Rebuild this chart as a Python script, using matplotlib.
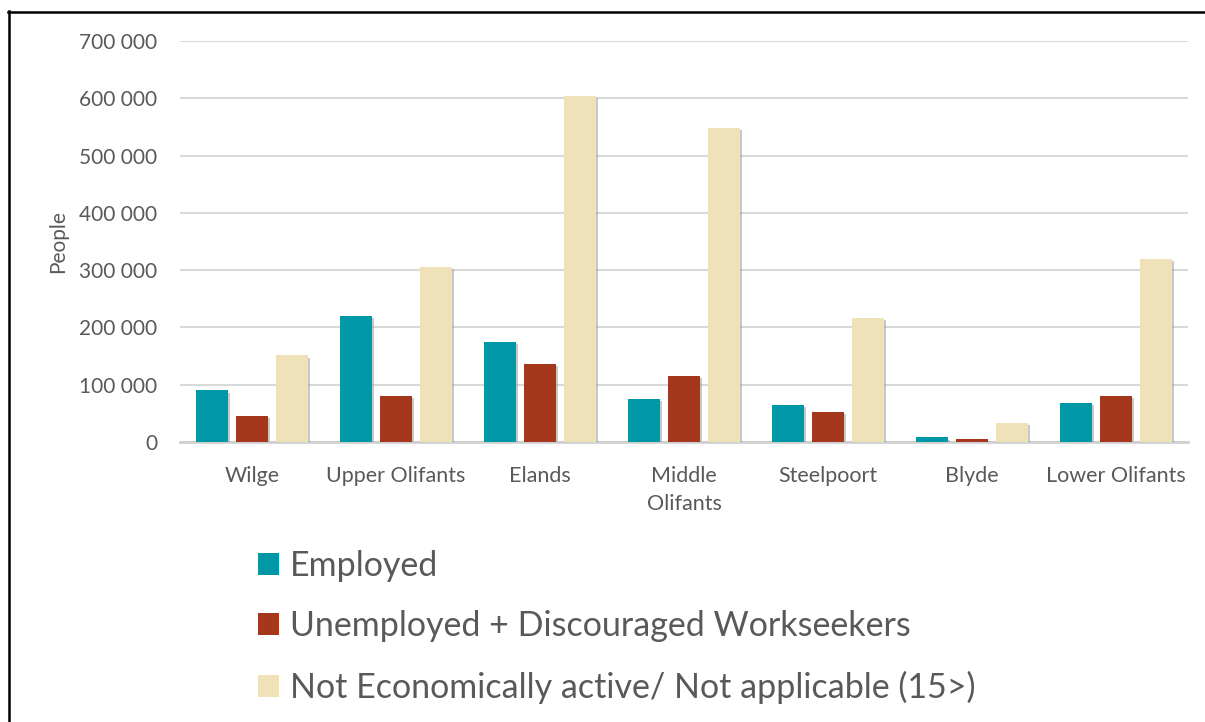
import numpy as np
import matplotlib
matplotlib.use('Agg')
import matplotlib.pyplot as plt
import matplotlib.patheffects as pe
from matplotlib.lines import Line2D
from matplotlib.patches import Patch
from matplotlib.ticker import FuncFormatter

plt.rcParams['font.family'] = ['Lato', 'DejaVu Sans']

regions = ['Wilge', 'Upper Olifants', 'Elands', 'Middle\nOlifants',
           'Steelpoort', 'Blyde', 'Lower Olifants']
employed = [90000, 220000, 174000, 75000, 64000, 8000, 68000]
unemployed = [45000, 81000, 136000, 116000, 53000, 6000, 81000]
not_active = [151000, 306000, 604000, 548000, 216000, 34000, 320000]

series_names = ['Employed', 'Unemployed + Discouraged Workseekers',
                'Not Economically active/ Not applicable (15>)']
colors = ['#0097A7', '#A5371D', '#F0E2B8']
text_col = '#595959'

fig = plt.figure(figsize=(12.05, 7.22), dpi=100)
ax = fig.add_axes([180 / 1205, 1 - 442 / 722, 1008 / 1205, 401 / 722])

x = np.arange(len(regions))
w = 0.222
step = 0.278
# soft drop shadow like the office chart
shadow = [pe.SimplePatchShadow(offset=(1.5, -1.5), shadow_rgbFace='#888888', alpha=0.45), pe.Normal()]
for i, vals in enumerate([employed, unemployed, not_active]):
    bars = ax.bar(x + (i - 1) * step, vals, width=w, color=colors[i], zorder=3)
    for b in bars:
        b.set_path_effects(shadow)

ax.set_xlim(-0.5, len(regions) - 0.5)
ax.set_ylim(0, 700000)
ax.set_yticks(np.arange(0, 700001, 100000))
ax.yaxis.set_major_formatter(FuncFormatter(lambda v, p: f'{int(v):,}'.replace(',', ' ')))
ax.set_xticks(x)
ax.set_xticklabels(regions, linespacing=1.5)
ax.grid(axis='y', color='#D9D9D9', linewidth=1.5, zorder=0)
for s in ['top', 'right', 'left']:
    ax.spines[s].set_visible(False)
ax.spines['bottom'].set_color('#D0D0D0')
ax.spines['bottom'].set_linewidth(2)
ax.tick_params(axis='both', length=0, labelsize=15, colors=text_col)
ax.tick_params(axis='x', labelsize=15.5, pad=17)
ax.tick_params(axis='y', pad=16.5)
ax.set_ylabel('People', fontsize=15, color=text_col, labelpad=8)

handles = [Patch(facecolor=c, edgecolor='none') for c in colors]
fig.legend(handles, series_names, loc='upper left',
           bbox_to_anchor=(258 / 1205, 1 - 550 / 722),
           frameon=False, fontsize=24.5, labelcolor=text_col,
           borderpad=0, borderaxespad=0,
           handlelength=0.62, handleheight=0.62, handletextpad=0.32,
           labelspacing=0.83)

# frame lines at left and top
fig.add_artist(Line2D([8.5 / 1205, 8.5 / 1205], [0, 1 - 11 / 722], color='black', linewidth=1.8))
fig.add_artist(Line2D([8 / 1205, 1], [1 - 11.5 / 722, 1 - 11.5 / 722], color='black', linewidth=1.8))

fig.savefig('out.png', dpi=100)
